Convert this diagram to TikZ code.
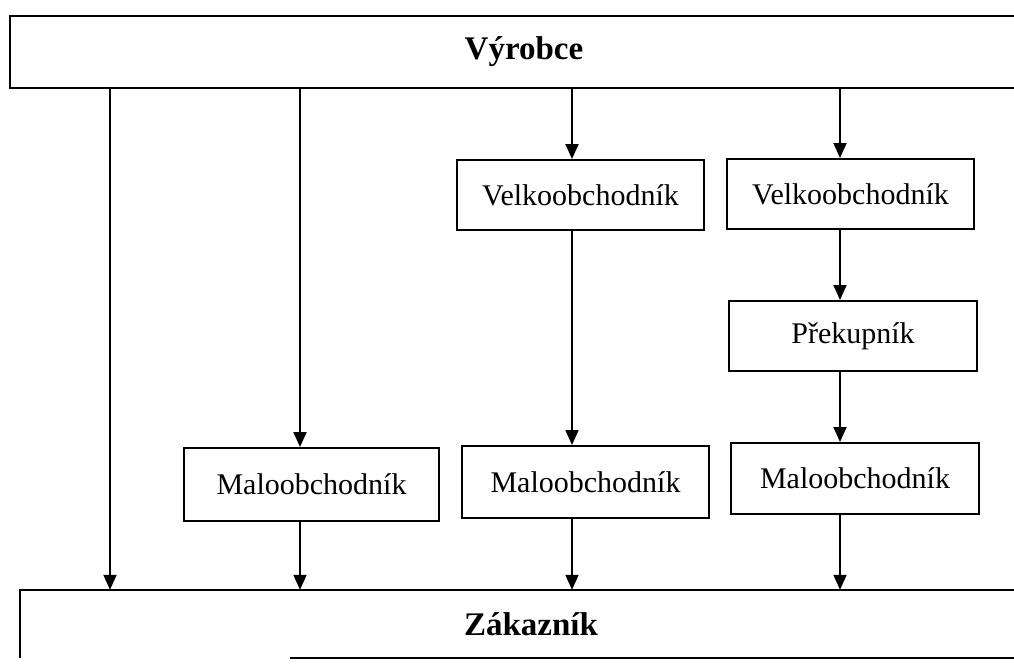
\documentclass[tikz,border=0pt]{standalone}
\usepackage{fontspec}
\setmainfont{Liberation Serif}
\usetikzlibrary{arrows.meta}
\begin{document}
\begin{tikzpicture}[x=1pt,y=-1pt,
  box/.style={draw, line width=2pt, inner sep=0pt, align=center, font=\fontsize{30}{36}\selectfont},
  endbox/.style={inner sep=0pt, align=center, font=\fontsize{33}{40}\selectfont\bfseries},
  edge/.style={line width=2pt},
  arr/.style={line width=2pt, -{Triangle[length=15pt,width=13pt]}}]
\useasboundingbox (0,0) rectangle (1014,664);
% top and bottom bands
\node[endbox, draw, line width=2pt, minimum width=1028pt, minimum height=72pt] (vyr) at (524,52) {Výrobce};
\node[endbox, minimum width=1022pt, minimum height=68pt] (zak) at (531,624) {Zákazník};
\draw[edge] (zak.south west) -- (zak.north west) -- (zak.north east);
\draw[edge] ([xshift=270pt]zak.south west) -- (zak.south east);
% intermediate boxes
\node[box, minimum width=247pt, minimum height=70pt] (vo1) at (580.5,195) {Velkoobchodník};
\node[box, minimum width=247pt, minimum height=70pt] (vo2) at (850.5,194) {Velkoobchodník};
\node[box, minimum width=248pt, minimum height=70pt] (pre) at (853,336) {Překupník};
\node[box, minimum width=255pt, minimum height=73pt] (mo1) at (311.5,484.5) {Maloobchodník};
\node[box, minimum width=247pt, minimum height=72pt] (mo2) at (585.5,482) {Maloobchodník};
\node[box, minimum width=248pt, minimum height=71pt] (mo3) at (855,478.5) {Maloobchodník};
% connector columns
\coordinate (c1) at (110,0);
\coordinate (c2) at (300,0);
\coordinate (c3) at (572,0);
\coordinate (c4) at (840,0);
% connectors
\draw[arr] (c1 |- vyr.south) -- (c1 |- zak.north);
\draw[arr] (c2 |- vyr.south) -- (c2 |- mo1.north);
\draw[arr] (c2 |- mo1.south) -- (c2 |- zak.north);
\draw[arr] (c3 |- vyr.south) -- (c3 |- vo1.north);
\draw[arr] (c3 |- vo1.south) -- (c3 |- mo2.north);
\draw[arr] (c3 |- mo2.south) -- (c3 |- zak.north);
\draw[arr] (c4 |- vyr.south) -- (c4 |- vo2.north);
\draw[arr] (c4 |- vo2.south) -- (c4 |- pre.north);
\draw[arr] (c4 |- pre.south) -- (c4 |- mo3.north);
\draw[arr] (c4 |- mo3.south) -- (c4 |- zak.north);
\end{tikzpicture}
\end{document}
